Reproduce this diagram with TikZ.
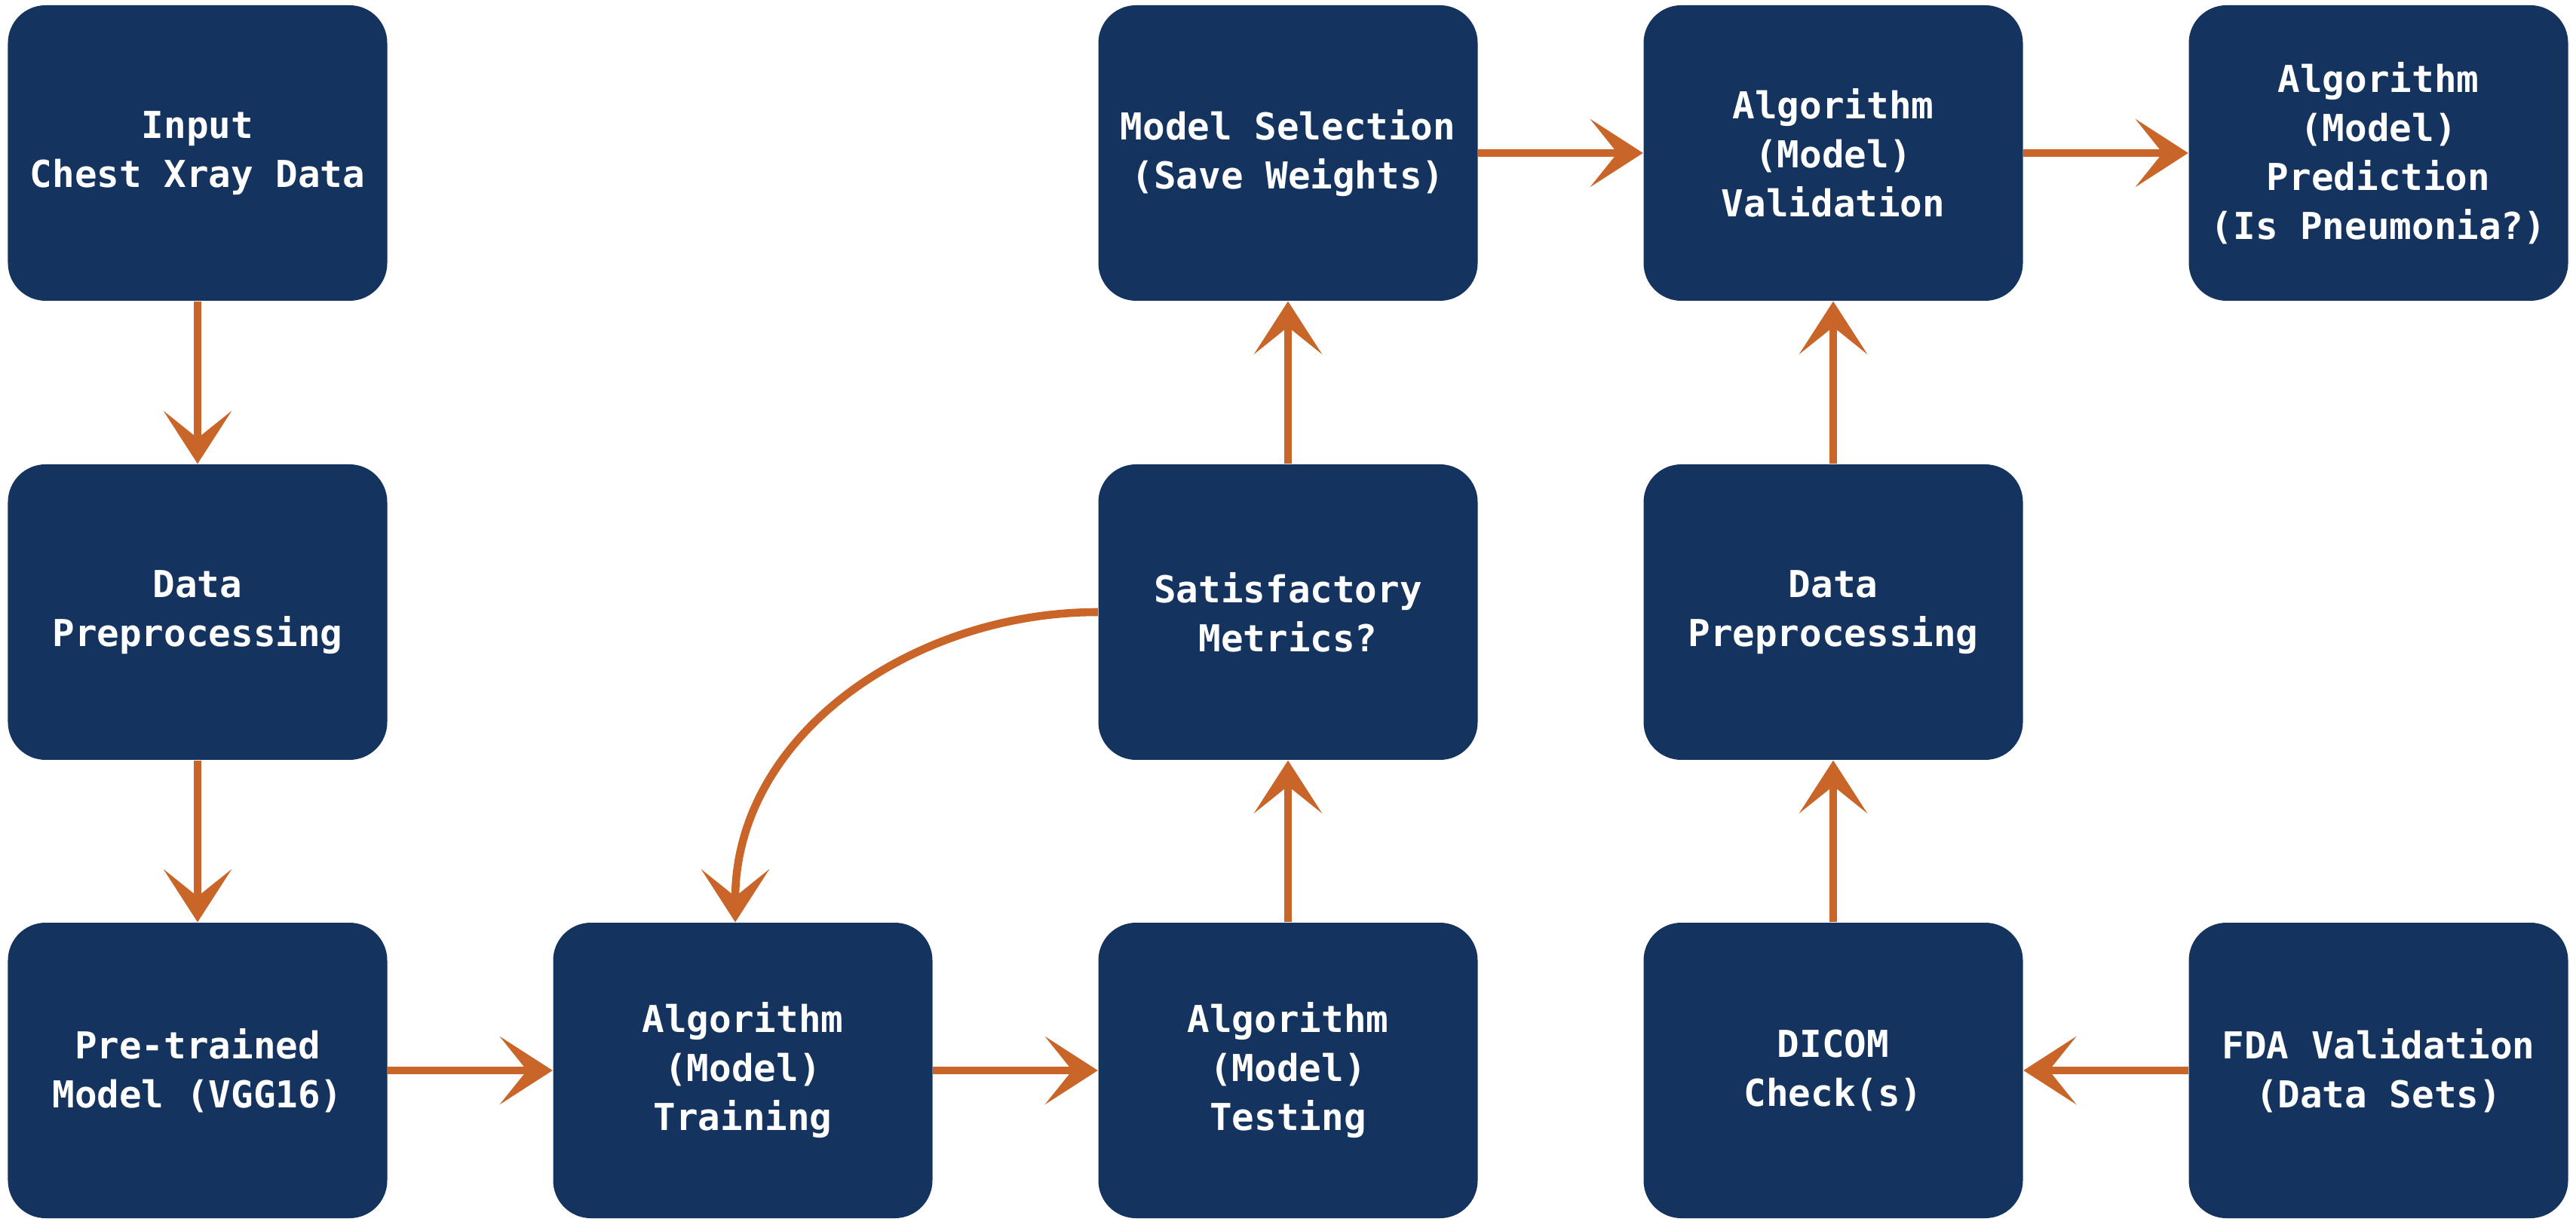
\documentclass[tikz,border=0pt]{standalone}
\usepackage{fontspec}
\setmonofont{DejaVu Sans Mono}
\usepackage{tikz}
\usetikzlibrary{positioning}
\usetikzlibrary{arrows.meta}
\usepackage{xcolor}
\definecolor{navy}{HTML}{14335F}
\definecolor{rust}{HTML}{C96528}
\tikzset{
    stage/.style={rectangle, rounded corners=0.5cm, fill=navy, text=white, align=center,
        minimum width=5.03cm, minimum height=3.92cm, inner sep=0pt,
        font=\ttfamily\bfseries\fontsize{14}{18.5}\selectfont},
    flow/.style={-{Stealth[length=7mm,width=9mm,inset=3.6mm]}, draw=rust, line width=3pt}
}

\begin{document}
\begin{tikzpicture}
            \useasboundingbox (0,0) rectangle (34.16,16.28);
            % Training pipeline
            \node[stage] (input) at (2.62,14.25) {Input\\Chest Xray Data};
            \node[stage] (prep) at (2.62,8.16) {Data\\Preprocessing};
            \node[stage] (pretrained) at (2.62,2.08) {Pre-trained\\Model (VGG16)};
            \node[stage] (training) at (9.85,2.08) {Algorithm\\(Model)\\Training};
            \node[stage] (testing) at (17.08,2.08) {Algorithm\\(Model)\\Testing};
            \node[stage] (metrics) at (17.08,8.16) {Satisfactory\\Metrics?};
            \node[stage] (selection) at (17.08,14.25) {Model Selection\\(Save Weights)};
            
            % Validation pipeline
            \node[stage] (validation) at (24.31,14.25) {Algorithm\\(Model)\\Validation};
            \node[stage] (prediction) at (31.54,14.25) {Algorithm\\(Model)\\Prediction\\(Is Pneumonia?)};
            \node[stage] (prepval) at (24.31,8.16) {Data\\Preprocessing};
            \node[stage] (dicom) at (24.31,2.08) {DICOM\\Check(s)};
            \node[stage] (fda) at (31.54,2.08) {FDA Validation\\(Data Sets)};
            
            \draw[flow] (input) -- (prep);
            \draw[flow] (prep) -- (pretrained);
            \draw[flow] (pretrained) -- (training);
            \draw[flow] (training) -- (testing);
            \draw[flow] (testing) -- (metrics);
            \draw[flow] (metrics) -- (selection);
            \draw[flow] (metrics.west) to[out=180, in=90] ([xshift=-1mm]training.north);
            \draw[flow] (selection) -- (validation);
            \draw[flow] (validation) -- (prediction);
            \draw[flow] (fda) -- (dicom);
            \draw[flow] (dicom) -- (prepval);
            \draw[flow] (prepval) -- (validation);
        \end{tikzpicture}
\end{document}
